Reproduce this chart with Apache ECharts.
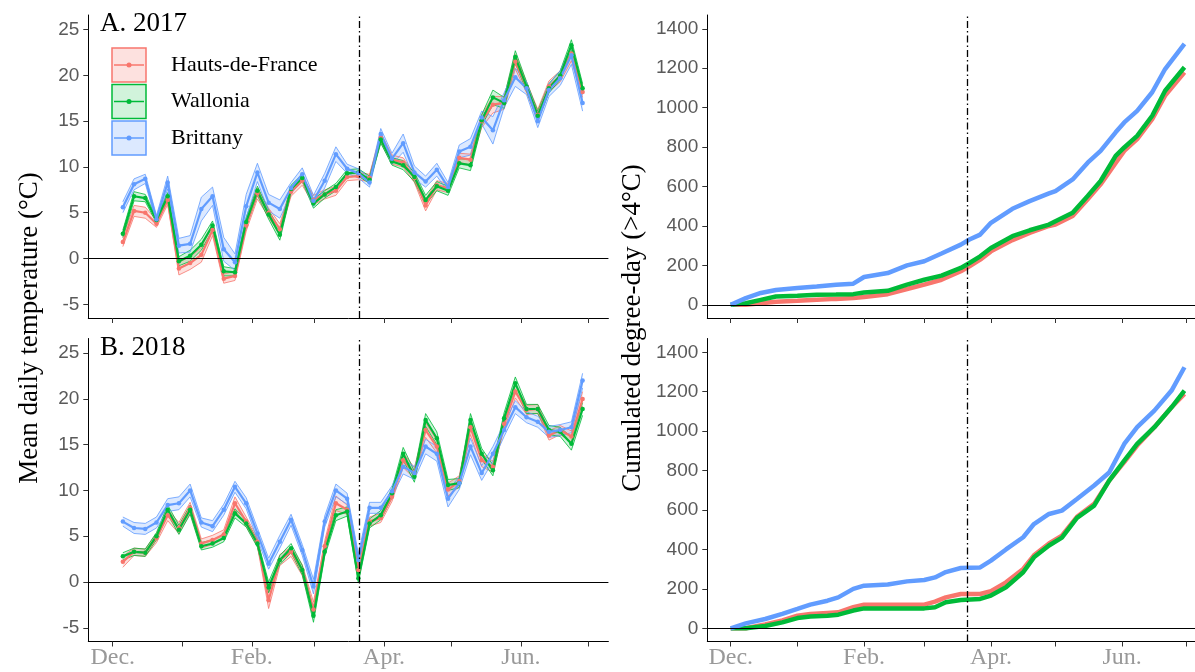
<!DOCTYPE html>
<html><head><meta charset="utf-8">
<script src="https://cdn.jsdelivr.net/npm/echarts@6/dist/echarts.min.js"></script>
<style>html,body{margin:0;padding:0;background:#fff}#c{width:1195px;height:672px}</style>
</head><body><div id="c"></div>
<script>
// ---------- categories / ticks ----------
const regions = ['Hauts-de-France', 'Wallonia', 'Brittany'];
const monthTicks = [0, 31, 62, 90, 121, 151, 182, 212];      // days since 1 Dec
const monthLabelDays = [0, 62, 121, 182];
const monthLabels = ['Dec.', 'Feb.', 'Apr.', 'Jun.'];
const tempTicks = [-5, 0, 5, 10, 15, 20, 25];
const ddTicks = [0, 200, 400, 600, 800, 1000, 1200, 1400];
const equinoxDay = 110; // 21 March

// ---------- 5-day mean temperature (days since 1 Dec) ----------
const pentadDay = [4.5,9.5,14.5,19.5,24.5,29.5,34.5,39.5,44.5,49.5,54.5,59.5,64.5,69.5,74.5,79.5,84.5,89.5,94.5,99.5,104.5,109.5,114.5,119.5,124.5,129.5,134.5,139.5,144.5,149.5,154.5,159.5,164.5,169.5,174.5,179.5,184.5,189.5,194.5,199.5,204.5,209.5];

const tHdF2017 = [1.8,5.2,5.0,3.8,6.4,-1.1,-0.5,0.4,3.1,-2.2,-1.9,3.6,7.1,5.0,3.2,7.3,8.5,6.4,7.0,7.4,8.9,9.0,8.8,13.2,10.8,10.5,8.8,5.8,8.0,7.7,11.0,10.8,15.0,16.8,17.0,21.5,18.7,15.7,18.8,19.9,22.4,18.2];
const tWal2017 = [2.7,6.8,6.6,4.2,6.8,-0.3,0.3,1.5,3.6,-1.4,-1.5,4.0,7.4,4.8,2.6,7.6,8.8,6.0,7.0,7.8,9.3,9.4,8.6,13.0,10.6,10.2,8.9,6.4,7.9,7.4,10.4,10.2,15.1,17.6,17.0,22.0,18.8,15.6,18.6,20.0,23.3,18.6];
const tBri2017 = [5.6,8.1,8.7,4.3,8.3,1.4,1.6,5.4,6.8,1.0,-0.4,5.7,9.4,6.1,5.4,7.7,9.2,6.3,8.5,11.4,9.8,9.3,8.3,13.6,10.9,12.6,9.4,8.4,9.7,7.8,11.7,12.2,15.4,14.0,17.3,19.8,18.6,15.0,18.4,19.7,22.2,17.0];

const tHdF2018 = [2.2,3.3,3.2,4.8,7.3,5.9,8.1,4.2,4.6,5.2,8.6,6.6,4.4,-2.0,2.4,3.3,1.3,-3.0,3.9,8.6,7.9,1.3,6.6,7.0,9.3,13.3,11.9,16.6,14.8,10.1,11.0,16.9,13.3,12.6,17.3,20.8,18.8,18.9,16.0,16.6,15.9,20.0];
const tWal2018 = [2.8,3.3,3.2,5.0,7.9,5.7,7.9,3.9,4.2,4.8,7.5,6.4,4.2,-0.6,2.4,3.7,1.3,-3.7,3.3,7.3,7.7,0.4,6.4,7.3,9.7,14.0,11.5,17.7,15.7,10.6,10.8,17.7,14.0,12.2,17.9,21.7,18.9,18.9,16.6,16.4,15.1,18.9];
const tBri2018 = [6.6,5.9,5.8,6.5,8.4,8.6,10.0,6.5,6.1,7.9,10.4,8.6,5.3,2.0,4.4,6.8,3.5,-0.5,6.6,10.0,9.1,2.4,8.1,8.1,9.9,12.6,11.9,14.8,14.0,9.1,10.8,14.8,11.9,14.0,16.6,19.1,18.0,17.5,16.4,16.6,16.9,22.0];

// half-width of the between-station envelope
const sHdF2017 = [0.5,0.6,0.6,0.4,0.5,0.7,0.7,0.8,0.6,0.5,0.5,0.6,0.6,0.5,0.6,0.5,0.5,0.5,0.5,0.5,0.4,0.4,0.4,0.5,0.5,0.5,0.5,0.6,0.5,0.5,0.5,0.6,0.7,0.9,0.7,0.8,0.6,0.6,0.6,0.6,0.8,0.6];
const sWal2017 = [0.4,0.5,0.4,0.3,0.4,0.5,0.6,0.6,0.5,0.5,0.4,0.5,0.5,0.5,0.6,0.4,0.4,0.5,0.4,0.4,0.4,0.4,0.4,0.4,0.4,0.5,0.5,0.5,0.5,0.5,0.5,0.6,0.6,0.8,0.6,0.7,0.5,0.5,0.5,0.5,0.6,0.5];
const sBri2017 = [0.6,0.6,0.5,0.4,0.7,0.8,0.9,1.3,1.0,1.3,0.9,1.3,1.0,0.9,1.0,0.6,0.7,0.6,0.8,0.8,0.5,0.5,0.5,0.6,0.6,1.0,0.7,0.6,0.7,0.5,0.7,0.9,0.7,1.5,0.8,1.0,0.7,0.7,0.7,0.8,1.0,0.9];
const sHdF2018 = [0.6,0.4,0.4,0.5,0.6,0.6,0.6,0.5,0.5,0.5,0.7,0.5,0.5,0.9,0.6,0.5,0.6,0.8,0.6,0.8,0.5,0.6,0.5,0.5,0.5,0.8,0.6,0.8,0.7,0.7,0.6,0.8,0.7,0.6,0.6,0.7,0.5,0.5,0.5,0.5,0.6,0.8];
const sWal2018 = [0.4,0.4,0.4,0.4,0.5,0.5,0.5,0.4,0.4,0.4,0.5,0.4,0.4,0.6,0.5,0.5,0.5,0.7,0.5,0.6,0.5,0.5,0.5,0.5,0.5,0.7,0.6,0.7,0.7,0.6,0.5,0.7,0.6,0.6,0.6,0.7,0.5,0.5,0.5,0.5,0.7,0.7];
const sBri2018 = [0.5,0.6,0.6,0.6,0.7,0.7,0.7,0.5,0.6,0.6,0.6,0.6,0.6,0.6,0.7,0.6,0.6,0.8,0.6,0.7,0.6,0.7,0.6,0.6,0.6,0.8,0.7,0.8,0.8,0.9,0.7,0.9,0.8,0.8,0.7,0.7,0.6,0.6,0.6,0.6,0.6,0.8];

// ---------- cumulated degree-days (>4 °C) ----------
const ddDay2017 = [0,7,14,21,31,40,49,57,62,73,82,90,98,107,111,116,121,131,139,148,151,159,166,172,179,183,189,196,202,211];
const ddHdF2017 = [0,0,8,15,20,25,30,34,40,54,80,102,127,170,195,229,271,328,365,400,407,450,535,611,720,781,840,942,1061,1179];
const ddWal2017 = [0,8,25,42,46,51,52,54,62,71,102,127,148,187,212,246,288,348,378,407,424,467,552,628,755,798,857,959,1086,1205];
const ddBri2017 = [0,34,60,75,85,93,102,107,141,161,200,221,260,305,331,356,416,487,526,565,577,636,721,781,875,925,984,1078,1196,1324];

const ddDay2018 = [0,7,16,24,31,37,45,50,57,62,73,82,90,95,100,107,116,121,128,136,141,148,154,161,169,176,183,189,197,205,211];
const ddHdF2018 = [0,0,20,40,64,72,78,81,107,120,120,120,120,135,157,174,174,188,233,301,370,430,470,565,631,749,843,927,1020,1121,1189];
const ddWal2018 = [0,0,12,30,52,60,64,69,90,101,101,101,101,107,132,144,149,166,208,284,360,420,460,560,622,749,851,935,1020,1121,1206];
const ddBri2018 = [0,25,47,73,98,120,140,157,200,216,222,238,245,258,285,306,309,343,400,462,529,580,597,656,724,790,935,1020,1104,1206,1324];

// ---------- styles ----------
const colors = ['#F8766D', '#00BA38', '#619CFF'];
const fills = ['rgba(248,118,109,0.22)', 'rgba(0,186,56,0.18)', 'rgba(97,156,255,0.22)'];
const serif = 'Liberation Serif';
const sans = 'Liberation Sans';

const gridTops = [15, 338.5];
const gridH = 303;
const grids = [
  {left: 88.3, right: 586.6, top: gridTops[0], height: gridH},
  {left: 88.3, right: 586.6, top: gridTops[1], height: gridH},
  {left: 707.3, right: 0, top: gridTops[0], height: gridH},
  {left: 707.3, right: 0, top: gridTops[1], height: gridH}
];

function xAxisFor(i) {
  const bottom = (i === 1 || i === 3);
  return {
    type: 'value', gridIndex: i, min: -10.9, max: i < 2 ? 221 : 215.9,
    splitLine: {show: false},
    axisLine: {onZero: false, lineStyle: {color: '#000', width: 1}},
    axisTick: {show: true, length: 5, customValues: monthTicks, lineStyle: {color: '#333', width: 1}},
    axisLabel: {
      show: bottom, customValues: monthLabelDays, margin: 4,
      color: '#999', fontFamily: serif, fontSize: 24,
      formatter: v => { const k = monthLabelDays.indexOf(v); return k >= 0 ? monthLabels[k] : ''; }
    }
  };
}
function yAxisFor(i) {
  const temp = i < 2;
  const ticks = temp ? tempTicks : ddTicks;
  return {
    type: 'value', gridIndex: i,
    min: temp ? -6.5 : -67, max: temp ? 26.6 : 1470,
    splitLine: {show: false},
    axisLine: {onZero: false, lineStyle: {color: '#000', width: 1}},
    axisTick: {show: true, length: 5, customValues: ticks, lineStyle: {color: '#333', width: 1}},
    axisLabel: {customValues: ticks, margin: 9, color: '#5a5a5a', fontFamily: sans, fontSize: 19,
      formatter: v => String(v)}
  };
}

function refLines() {
  return {
    silent: true, symbol: ['none', 'none'], label: {show: false}, animation: false,
    data: [
      {yAxis: 0, lineStyle: {color: '#000', width: 1.1, type: 'solid'}},
      {xAxis: equinoxDay, lineStyle: {color: '#000', width: 1.3, type: [7, 3, 1.5, 3]}}
    ]
  };
}

const series = [];
function tempPanel(g, means, halves) {
  means.forEach((m, r) => {
    const h = halves[r];
    const lo = pentadDay.map((d, i) => [d, +(m[i] - h[i]).toFixed(2)]);
    const hi = pentadDay.map((d, i) => [d, +(m[i] + h[i]).toFixed(2)]);
    // ribbon fill
    series.push({
      type: 'custom', xAxisIndex: g, yAxisIndex: g, silent: true, z: 1,
      data: pentadDay.map((d, i) => [d, lo[i][1], hi[i][1]]),
      encode: {x: 0, y: [1, 2]},
      renderItem: (params, api) => {
        if (params.dataIndex !== 0) return null;
        const pts = [];
        for (let i = 0; i < hi.length; i++) pts.push(api.coord(hi[i]));
        for (let i = lo.length - 1; i >= 0; i--) pts.push(api.coord(lo[i]));
        return {type: 'polygon', shape: {points: pts}, style: {fill: fills[r], stroke: 'none'}};
      },
      markLine: r === 0 ? refLines() : undefined
    });
    [lo, hi].forEach(arr => series.push({
      type: 'line', xAxisIndex: g, yAxisIndex: g, data: arr, silent: true,
      symbol: 'none', lineStyle: {color: colors[r], width: 0.8}, z: 2
    }));
  });
  means.forEach((m, r) => {
    series.push({
      name: regions[r], type: 'line', xAxisIndex: g, yAxisIndex: g,
      data: pentadDay.map((d, i) => [d, m[i]]),
      symbol: 'circle', symbolSize: 4.5, showSymbol: true,
      itemStyle: {color: colors[r]}, lineStyle: {color: colors[r], width: 2.2}, z: 3
    });
  });
}
function ddPanel(g, days, vals) {
  vals.forEach((v, r) => {
    series.push({
      name: regions[r], type: 'line', xAxisIndex: g, yAxisIndex: g,
      data: days.map((d, i) => [d, v[i]]),
      symbol: 'none', lineStyle: {color: colors[r], width: 4.5}, z: 3,
      markLine: r === 0 ? refLines() : undefined
    });
  });
}
tempPanel(0, [tHdF2017, tWal2017, tBri2017], [sHdF2017, sWal2017, sBri2017]);
tempPanel(1, [tHdF2018, tWal2018, tBri2018], [sHdF2018, sWal2018, sBri2018]);
ddPanel(2, ddDay2017, [ddHdF2017, ddWal2017, ddBri2017]);
ddPanel(3, ddDay2018, [ddHdF2018, ddWal2018, ddBri2018]);

// legend keys (drawn) + labels
const legendTops = [48, 84.5, 121];
const legendEls = [];
regions.forEach((name, r) => {
  const y = legendTops[r];
  legendEls.push({type: 'rect', shape: {x: 112, y: y, width: 34, height: 34},
    style: {fill: fills[r], stroke: colors[r], lineWidth: 1.5}, z: 10});
  legendEls.push({type: 'line', shape: {x1: 114, y1: y + 17, x2: 144, y2: y + 17},
    style: {stroke: colors[r], lineWidth: 1.5}, z: 11});
  legendEls.push({type: 'circle', shape: {cx: 129, cy: y + 17, r: 2.5},
    style: {fill: colors[r]}, z: 11});
  legendEls.push({type: 'text', x: 171, y: y + 17,
    style: {text: name, fill: '#000', font: '22px "' + serif + '"', textVerticalAlign: 'middle', textAlign: 'left'}, z: 11});
});

const option = {
  animation: false,
  backgroundColor: '#fff',
  grid: grids,
  xAxis: [0, 1, 2, 3].map(xAxisFor),
  yAxis: [0, 1, 2, 3].map(yAxisFor),
  title: [
    {text: 'A. 2017', left: 100, top: 10, padding: 0, textStyle: {fontFamily: serif, fontSize: 27, fontWeight: 'normal', color: '#000'}},
    {text: 'B. 2018', left: 100, top: 334, padding: 0, textStyle: {fontFamily: serif, fontSize: 27, fontWeight: 'normal', color: '#000'}}
  ],
  graphic: [
    {type: 'text', x: 30, y: 328, rotation: Math.PI / 2,
      style: {text: 'Mean daily temperature (°C)', fill: '#000', font: '27px "' + serif + '"', textAlign: 'center', textVerticalAlign: 'middle'}},
    {type: 'text', x: 633, y: 328, rotation: Math.PI / 2,
      style: {text: 'Cumulated degree-day (>4°C)', fill: '#000', font: '27px "' + serif + '"', textAlign: 'center', textVerticalAlign: 'middle'}}
  ].concat(legendEls),
  series: series
};
const chart = echarts.init(document.getElementById('c'), null, {renderer: 'canvas'});
chart.setOption(option);
</script></body></html>
